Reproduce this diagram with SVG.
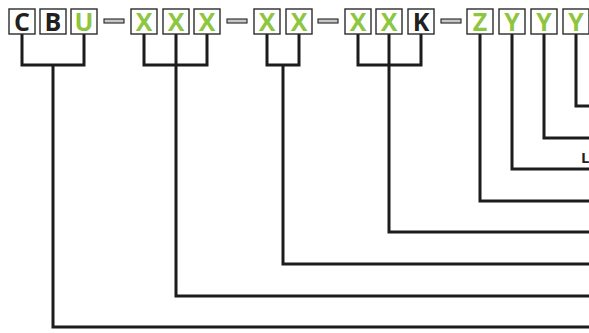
<svg xmlns="http://www.w3.org/2000/svg" width="589" height="333" viewBox="0 0 589 333">
<style>
.box{fill:#fff;stroke:#2b2b2b;stroke-width:1.4}
.dash{fill:#c8c8c8;stroke:#222;stroke-width:1.1}
.t{font-family:"Open Sans","Liberation Sans",sans-serif;font-weight:700;font-size:25px;text-anchor:middle}
.g{fill:#8dc63f}
.k{fill:#231f20}
.c{fill:none;stroke:#1c1c1c;stroke-width:3;stroke-linejoin:miter;stroke-linecap:square}
.lbl{font-family:"Open Sans","Liberation Sans",sans-serif;font-weight:700;font-size:15px;fill:#231f20}
</style>
<rect width="589" height="333" fill="#fff"/>
<g id="connectors">
<path class="c" d="M22 35V65H84V35M53 65V327H592"/>
<path class="c" d="M144 35V65H207V35M176 35V296H592"/>
<path class="c" d="M267 35V65H299V35M283 65V264H592"/>
<path class="c" d="M358 35V65H421V35M389 35V232H592"/>
<path class="c" d="M480 35V201H592"/>
<path class="c" d="M512 35V169H592"/>
<path class="c" d="M544 35V138H592"/>
<path class="c" d="M576 35V106H592"/>
</g>
<g id="n-C"><rect class="box" x="9" y="9" width="26" height="25"/><text class="t k" x="22" y="31">C</text></g>
<g id="n-B"><rect class="box" x="40" y="9" width="26" height="25"/><text class="t k" x="53" y="31">B</text></g>
<g id="n-U"><rect class="box" x="71" y="9" width="26" height="25"/><text class="t g" x="84" y="31">U</text></g>
<g id="d1"><rect class="dash" x="104" y="19" width="20" height="4"/></g>
<g id="n-X1"><rect class="box" x="131" y="9" width="26" height="25"/><text class="t g" x="144" y="31">X</text></g>
<g id="n-X2"><rect class="box" x="163" y="9" width="26" height="25"/><text class="t g" x="176" y="31">X</text></g>
<g id="n-X3"><rect class="box" x="194" y="9" width="26" height="25"/><text class="t g" x="207" y="31">X</text></g>
<g id="d2"><rect class="dash" x="227" y="19" width="20" height="4"/></g>
<g id="n-X4"><rect class="box" x="254" y="9" width="26" height="25"/><text class="t g" x="267" y="31">X</text></g>
<g id="n-X5"><rect class="box" x="286" y="9" width="26" height="25"/><text class="t g" x="299" y="31">X</text></g>
<g id="d3"><rect class="dash" x="318" y="19" width="20" height="4"/></g>
<g id="n-X6"><rect class="box" x="345" y="9" width="26" height="25"/><text class="t g" x="358" y="31">X</text></g>
<g id="n-X7"><rect class="box" x="376" y="9" width="26" height="25"/><text class="t g" x="389" y="31">X</text></g>
<g id="n-K"><rect class="box" x="408" y="9" width="26" height="25"/><text class="t k" x="421" y="31">K</text></g>
<g id="d4"><rect class="dash" x="441" y="19" width="20" height="4"/></g>
<g id="n-Z"><rect class="box" x="467" y="9" width="26" height="25"/><text class="t g" x="480" y="31">Z</text></g>
<g id="n-Y1"><rect class="box" x="499" y="9" width="26" height="25"/><text class="t g" x="512" y="31">Y</text></g>
<g id="n-Y2"><rect class="box" x="531" y="9" width="26" height="25"/><text class="t g" x="544" y="31">Y</text></g>
<g id="n-Y3"><rect class="box" x="563" y="9" width="26" height="25"/><text class="t g" x="576" y="31">Y</text></g>
<g id="label"><text class="lbl" x="581" y="162.5">L</text></g>
</svg>
